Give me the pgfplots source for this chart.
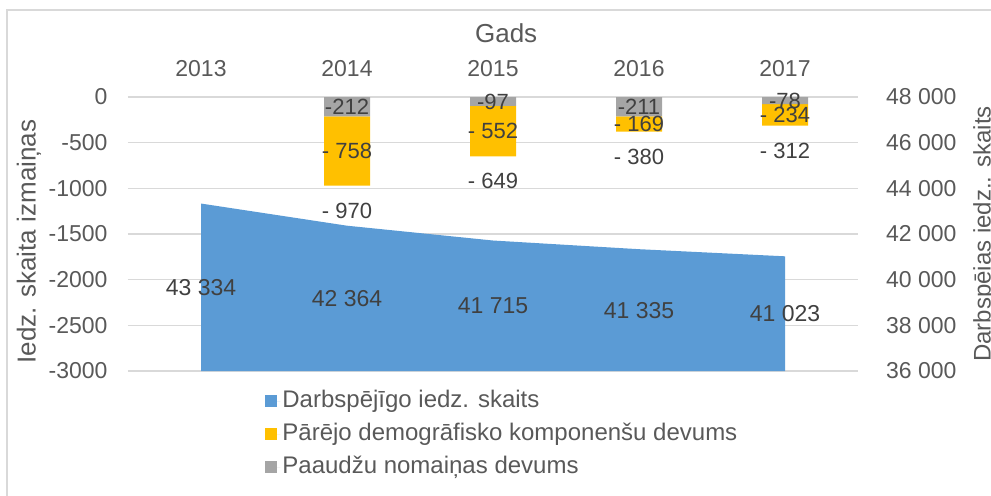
\documentclass[border=0pt]{standalone}
\usepackage{fontspec}
\setmainfont{Liberation Sans}
\usepackage{pgfplots}
\usepackage{pgfplotstable}
\pgfplotsset{compat=1.18}

\definecolor{areablue}{HTML}{5B9BD5}
\definecolor{baryellow}{HTML}{FFC000}
\definecolor{bargray}{HTML}{A5A5A5}
\definecolor{txt}{HTML}{595959}
\definecolor{lbl}{HTML}{404040}
\definecolor{gridc}{HTML}{D9D9D9}

\newcommand{\fs}[1]{\fontsize{#1}{#1}\selectfont}

% components of the change (2014-2017)
\pgfplotstableread{
x g y
1 -212 -758
2 -97 -552
3 -211 -169
4 -78 -234
}\components

% working-age population
\pgfplotstableread{
x v
0 43334
1 42364
2 41715
3 41335
4 41023
}\workforce

\pgfplotsset{
  base/.style={scale only axis, width=365pt, height=137pt,
    xmin=-0.5, xmax=4.5, axis line style={draw=none}, major tick length=0pt},
}

\begin{document}
\begin{tikzpicture}
\useasboundingbox (-64pt,-62pt) rectangle (431.5pt,185.5pt);
\clip (-64pt,-62pt) rectangle (431.5pt,185.5pt);
\draw[gridc, line width=0.75pt] (-60.5pt,-80pt) -- (-60.5pt,180.5pt) -- (450pt,180.5pt);

% left axis: stacked bars
\begin{axis}[base, ymin=-3000, ymax=0,
  ybar stacked, bar width=23pt,
  xtick={0,...,4}, xticklabels={2013,2014,2015,2016,2017},
  xticklabel pos=upper,
  xticklabel style={anchor=center, yshift=14pt, font=\fs{11.5}, text=txt},
  ytick={-3000,-2500,...,0},
  yticklabels={-3000,-2500,-2000,-1500,-1000,-500,0},
  yticklabel style={anchor=east, xshift=-6.7pt, font=\fs{11.5}, text=txt},
  ymajorgrids, grid style={gridc, line width=0.75pt},
  xlabel={Gads},
  xlabel style={at={(axis description cs:0.518,1)}, anchor=center, yshift=32pt, font=\fs{13}, text=txt},
  ylabel={Iedz. skaita izmaiņas},
  ylabel style={at={(axis description cs:-0.1356,0.472)}, anchor=center, font=\fs{13}, text=txt},
]
\addplot[fill=bargray, draw=none] table[x=x, y=g]{\components};
\addplot[fill=baryellow, draw=none] table[x=x, y=y]{\components};
\end{axis}

% right axis: area
\begin{axis}[base, ymin=36000, ymax=48000,
  xtick=\empty, scaled y ticks=false,
  ytick={36000,38000,...,48000},
  yticklabels={36 000,38 000,40 000,42 000,44 000,46 000,48 000},
  yticklabel pos=right,
  yticklabel style={anchor=west, xshift=10.5pt, font=\fs{11.5}, text=txt},
  ylabel={Darbspēias iedz.. skaits},
  ylabel style={at={(axis description cs:1.173,0.5)}, anchor=center, font=\fs{12}, text=txt},
  legend image code/.code={\fill[#1] (0pt,-3pt) rectangle (6pt,3pt); \path (0pt,0pt) -- (7.5pt,0pt);},
  legend style={draw=none, fill=none, at={(axis description cs:0.1877,-0.058)},
    anchor=north west, inner sep=0pt, row sep=2.5pt, font=\fs{12}, text=txt,
    nodes={inner sep=1pt, text height=9pt, text depth=3pt}},
  legend cell align=left,
]
\addplot[fill=areablue, draw=none] table[x=x, y=v]{\workforce} \closedcycle;
\addlegendentry{Darbspējīgo iedz. skaits}
\addlegendimage{fill=baryellow, draw=none}
\addlegendentry{Pārējo demogrāfisko komponenšu devums}
\addlegendimage{fill=bargray, draw=none}
\addlegendentry{Paaudžu nomaiņas devums}
\addplot[draw=none, mark=none, forget plot, nodes near coords={\pgfmathprintnumber[1000 sep={~}, assume math mode=true]{\pgfplotspointmeta}},
  point meta=\thisrow{v},
  every node near coord/.style={anchor=center, font=\fs{11.5}, text=lbl}]
  table[x=x, y expr=(\thisrow{v}+36000)/2]{\workforce};
\end{axis}

% bar labels
\begin{axis}[base, ymin=-3000, ymax=0, hide axis, clip=false]
\addplot[draw=none, mark=none, nodes near coords={\pgfmathprintnumber[assume math mode=true, 1000 sep={}]{\pgfplotspointmeta}},
  point meta=\thisrow{g},
  every node near coord/.style={anchor=center, font=\fs{11}, text=lbl}]
  table[x=x, y expr=\thisrow{g}/2]{\components};
\addplot[draw=none, mark=none, nodes near coords={-~\pgfmathprintnumber[assume math mode=true, 1000 sep={}]{\pgfplotspointmeta}},
  point meta={-\thisrow{y}},
  every node near coord/.style={anchor=center, font=\fs{11}, text=lbl}]
  table[x=x, y expr=\thisrow{g}+\thisrow{y}/2]{\components};
\addplot[draw=none, mark=none, nodes near coords={-~\pgfmathprintnumber[assume math mode=true, 1000 sep={}]{\pgfplotspointmeta}},
  point meta={-\thisrow{g}-\thisrow{y}},
  every node near coord/.style={anchor=center, yshift=-12.5pt, font=\fs{11}, text=lbl}]
  table[x=x, y expr=\thisrow{g}+\thisrow{y}]{\components};
\end{axis}
\end{tikzpicture}
\end{document}
